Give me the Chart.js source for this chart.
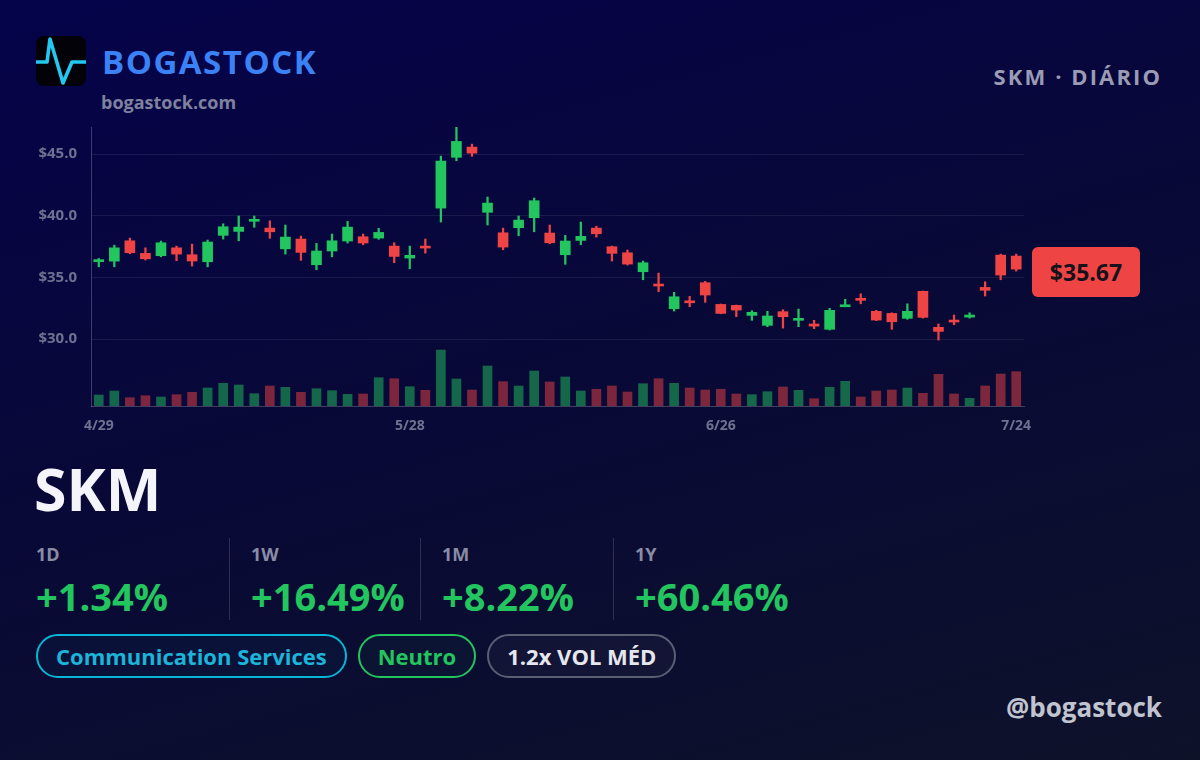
<!DOCTYPE html>
<html>
<head>
<meta charset="utf-8">
<script src="https://cdn.jsdelivr.net/npm/chart.js@4.4.1/dist/chart.umd.min.js"></script>
<style>
  html, body { margin: 0; padding: 0; }
  body {
    width: 1200px; height: 760px; overflow: hidden; position: relative;
    font-family: "Open Sans", sans-serif; font-weight: 700;
    background: linear-gradient(165deg, #05034a 0%, #080838 45%, #0e1229 100%);
  }
  .logo { position: absolute; left: 36px; top: 36px; width: 50px; height: 50px; }
  .brand { position: absolute; left: 102px; top: 40px; font-size: 33px; letter-spacing: 1.5px; color: #3b82f6; line-height: 44px; }
  .site { position: absolute; left: 101px; top: 89px; font-size: 18px; color: #7f819f; line-height: 26px; }
  .period { position: absolute; right: 38px; top: 61px; font-size: 22px; letter-spacing: 2.1px; color: #9a9bb4; line-height: 30px; }
  #chartWrap { position: absolute; left: 0; top: 117px; width: 1200px; height: 323px; }
  .tag {
    position: absolute; left: 1032px; width: 108px; height: 50px; border-radius: 6px;
    background: #ef4444; color: #16121c; font-size: 23px; line-height: 50px; text-align: center;
  }
  .ticker { position: absolute; left: 34px; top: 448px; font-size: 59px; color: #f4f5fb; line-height: 80px; }
  .stats { position: absolute; left: 36px; top: 538px; display: flex; }
  .stat { height: 84px; position: relative; }
  .stat .k { font-size: 18px; color: #8a8ca5; line-height: 28px; margin-top: 2px; }
  .stat .v { font-size: 38px; color: #22c55e; line-height: 48px; margin-top: 4px; }
  .divider { width: 1px; height: 82px; background: rgba(255,255,255,0.15); }
  .pills { position: absolute; left: 36px; top: 634px; display: flex; gap: 11px; }
  .pill {
    height: 40px; line-height: 40px; padding: 0 18px; border: 2px solid; border-radius: 22px;
    font-size: 22px; box-sizing: content-box;
  }
  .handle { position: absolute; right: 38px; top: 689px; font-size: 26px; color: #c0c3d0; line-height: 36px; }
</style>
</head>
<body>
  <svg class="logo" viewBox="0 0 50 50">
    <rect x="0" y="0" width="50" height="50" rx="8" fill="#020208"/>
    <polyline points="0,26 11,26 14,3 27,47 36,26 50,26" fill="none" stroke="#22c8ef" stroke-width="3.6" stroke-linejoin="round"/>
  </svg>
  <div class="brand">BOGASTOCK</div>
  <div class="site">bogastock.com</div>
  <div class="period">SKM · DIÁRIO</div>

  <div id="chartWrap"><canvas id="candles"></canvas></div>
  <div class="tag" id="priceTag"></div>

  <div class="ticker">SKM</div>
  <div class="stats" id="stats"></div>
  <div class="pills" id="pills"></div>
  <div class="handle">@bogastock</div>

<script>
const dates = [
  "4/29", "4/30",
  "5/1", "5/2", "5/3", "5/6", "5/7", "5/8", "5/9", "5/10", "5/13", "5/14", "5/15", "5/16", "5/17",
  "5/20", "5/21", "5/22", "5/23", "5/24", "5/28", "5/29", "5/30", "5/31",
  "6/3", "6/4", "6/5", "6/6", "6/7", "6/10", "6/11", "6/12", "6/13", "6/14", "6/17", "6/18", "6/20",
  "6/21", "6/24", "6/25", "6/26", "6/27", "6/28",
  "7/1", "7/2", "7/3", "7/5", "7/8", "7/9", "7/10", "7/11", "7/12", "7/15", "7/16", "7/17", "7/18",
  "7/19", "7/22", "7/23", "7/24"
];
const tickDates = ["4/29", "5/28", "6/26", "7/24"];
const priceTicks = [30, 35, 40, 45];

const opens = [
  36.28, 36.32, 37.97, 36.95, 36.76, 37.40, 36.84, 36.27, 38.41, 38.73,
  39.55, 39.00, 37.32, 38.11, 36.03, 37.14, 37.95, 38.30, 38.19, 37.54,
  36.57, 37.52, 40.62, 44.74, 45.57, 40.28, 38.62, 39.03, 39.84, 38.60,
  36.84, 38.00, 39.00, 37.49, 37.00, 35.46, 34.46, 32.46, 33.08, 34.57,
  32.81, 32.73, 31.92, 31.11, 32.22, 31.52, 31.22, 30.79, 32.62, 33.30,
  32.25, 32.08, 31.68, 33.87, 30.95, 31.54, 31.78, 34.19, 36.81, 36.73
];
const highs = [
  36.54, 37.62, 38.19, 37.40, 37.95, 37.54, 37.70, 38.03, 39.35, 39.98,
  39.98, 39.59, 39.25, 38.35, 37.76, 38.52, 39.54, 38.52, 38.98, 37.81,
  37.54, 38.11, 44.84, 47.18, 45.81, 41.52, 39.00, 39.98, 41.44, 39.25,
  38.41, 39.49, 39.16, 37.54, 37.22, 36.33, 35.35, 33.79, 33.46, 34.68,
  32.84, 32.76, 32.30, 32.25, 32.38, 32.43, 31.52, 32.49, 33.22, 33.67,
  32.33, 32.13, 32.86, 33.90, 31.22, 31.95, 32.13, 34.65, 36.89, 36.89
];
const lows = [
  35.86, 35.86, 36.92, 36.41, 36.67, 36.35, 35.92, 35.86, 38.11, 37.97,
  39.06, 38.17, 36.89, 36.38, 35.62, 36.67, 37.79, 37.65, 38.09, 36.19,
  35.70, 36.97, 39.49, 44.46, 44.82, 39.25, 37.24, 38.38, 38.70, 37.73,
  36.06, 37.65, 38.27, 36.33, 36.00, 34.81, 33.84, 32.27, 32.62, 32.98,
  32.05, 31.81, 31.52, 31.00, 30.89, 31.00, 30.84, 30.73, 32.62, 32.86,
  31.49, 30.79, 31.60, 31.70, 29.92, 31.16, 31.70, 33.49, 34.81, 35.51
];
const closes = [
  36.35, 37.40, 37.00, 36.51, 37.81, 36.89, 36.33, 37.87, 39.11, 39.08,
  39.62, 38.70, 38.27, 37.03, 37.14, 37.97, 39.08, 37.79, 38.65, 36.70,
  36.79, 37.38, 44.44, 46.03, 45.08, 41.03, 37.46, 39.65, 41.22, 37.81,
  37.95, 38.33, 38.54, 36.95, 36.08, 36.19, 34.30, 33.43, 32.94, 33.57,
  32.08, 32.35, 32.17, 31.87, 31.81, 31.68, 31.05, 32.33, 32.78, 33.14,
  31.54, 31.40, 32.25, 31.76, 30.62, 31.38, 31.95, 33.95, 35.19, 35.67
];
// volume in thousands of shares
const volumes = [
  220, 300, 166, 206, 180, 226, 274, 360, 454, 420,
  246, 400, 374, 274, 346, 306, 234, 240, 566, 546,
  386, 314, 1120, 540, 320, 800, 486, 400, 700, 480,
  580, 300, 334, 400, 280, 446, 546, 454, 360, 320,
  334, 240, 226, 286, 380, 314, 146, 374, 494, 180,
  300, 320, 360, 254, 634, 240, 154, 400, 640, 686
];

const statLabels = ["1D", "1W", "1M", "1Y"];
const statValues = ["+1.34%", "+16.49%", "+8.22%", "+60.46%"];
const pillTexts = ["Communication Services", "Neutro", "1.2x VOL MÉD"];

const UP = "#22c55e";
const DOWN = "#ef4444";
const UP_VOL = "rgba(34,197,94,0.5)";
const DOWN_VOL = "rgba(239,68,68,0.5)";

function buildStats() {
  const el = document.getElementById("stats");
  const widths = [193, 169, 171, 200];
  statLabels.forEach((k, i) => {
    if (i > 0) {
      const d = document.createElement("div");
      d.className = "divider";
      d.style.marginRight = "21px";
      el.appendChild(d);
    }
    const div = document.createElement("div");
    div.className = "stat";
    div.style.width = widths[i] + "px";
    div.innerHTML = `<div class="k">${k}</div><div class="v">${statValues[i]}</div>`;
    el.appendChild(div);
  });
}

function buildPills() {
  const el = document.getElementById("pills");
  const styles = [
    { border: "#06b6d4", color: "#1cb4d8", bg: "rgba(6,182,212,0.04)" },
    { border: "#22c55e", color: "#22c55e", bg: "rgba(34,197,94,0.04)" },
    { border: "#5c5e74", color: "#e6e7ee", bg: "rgba(255,255,255,0.03)" }
  ];
  pillTexts.forEach((t, i) => {
    const p = document.createElement("div");
    p.className = "pill";
    p.textContent = t;
    p.style.borderColor = styles[i].border;
    p.style.color = styles[i].color;
    p.style.background = styles[i].bg;
    el.appendChild(p);
  });
}

function candleColors(up, down) {
  return opens.map((o, i) => (closes[i] >= o ? up : down));
}

const priceTagPlugin = {
  id: "priceTag",
  afterRender(chart) {
    const last = closes[closes.length - 1];
    const y = chart.scales.y.getPixelForValue(last);
    const tag = document.getElementById("priceTag");
    tag.textContent = "$" + last.toFixed(2);
    tag.style.top = (117 + y - 25 + 3) + "px";
  }
};

function renderChart() {
  Chart.defaults.font.family = "'Open Sans', sans-serif";
  Chart.defaults.font.weight = "bold";

  const ctx = document.getElementById("candles").getContext("2d");
  new Chart(ctx, {
    type: "bar",
    data: {
      labels: dates,
      datasets: [
        {
          label: "Body",
          data: opens.map((o, i) => [o, closes[i]]),
          backgroundColor: candleColors(UP, DOWN),
          barThickness: 10,
          minBarLength: 2,
          grouped: false,
          order: 1
        },
        {
          label: "Wick",
          data: lows.map((l, i) => [l, highs[i]]),
          backgroundColor: candleColors(UP, DOWN),
          barThickness: 1.6,
          grouped: false,
          order: 2
        },
        {
          label: "Volume",
          data: volumes,
          yAxisID: "yVol",
          backgroundColor: candleColors(UP_VOL, DOWN_VOL),
          barThickness: 9,
          grouped: false,
          order: 3
        }
      ]
    },
    options: {
      responsive: true,
      maintainAspectRatio: false,
      animation: false,
      layout: { padding: { top: 10, right: 176, left: 0, bottom: 0 } },
      plugins: { legend: { display: false }, tooltip: { enabled: false } },
      scales: {
        x: {
          offset: true,
          grid: { display: false, drawTicks: false },
          border: { display: true, color: "rgba(255,255,255,0.22)" },
          ticks: {
            autoSkip: false,
            maxRotation: 0,
            padding: 12,
            color: "#6e7190",
            font: { size: 14, weight: "bold" },
            callback: (v, i) => (tickDates.includes(dates[i]) ? dates[i] : "")
          },
          afterFit: (s) => { s.height = 34; s.paddingLeft = 0; s.paddingRight = 0; }
        },
        y: {
          min: 24.57,
          max: 47.2,
          afterBuildTicks: (axis) => { axis.ticks = priceTicks.map((v) => ({ value: v })); },
          grid: { color: "rgba(255,255,255,0.08)", drawTicks: false },
          border: { display: true, color: "rgba(255,255,255,0.22)" },
          ticks: {
            padding: 14,
            color: "#6e7190",
            font: { size: 15, weight: "bold" },
            callback: (v) => "$" + Number(v).toFixed(1)
          },
          afterFit: (s) => { s.width = 91; s.paddingTop = 0; s.paddingBottom = 0; }
        },
        yVol: {
          display: false,
          min: 0,
          max: 5580
        }
      }
    },
    plugins: [priceTagPlugin]
  });
}

buildStats();
buildPills();
renderChart();
</script>
</body>
</html>
